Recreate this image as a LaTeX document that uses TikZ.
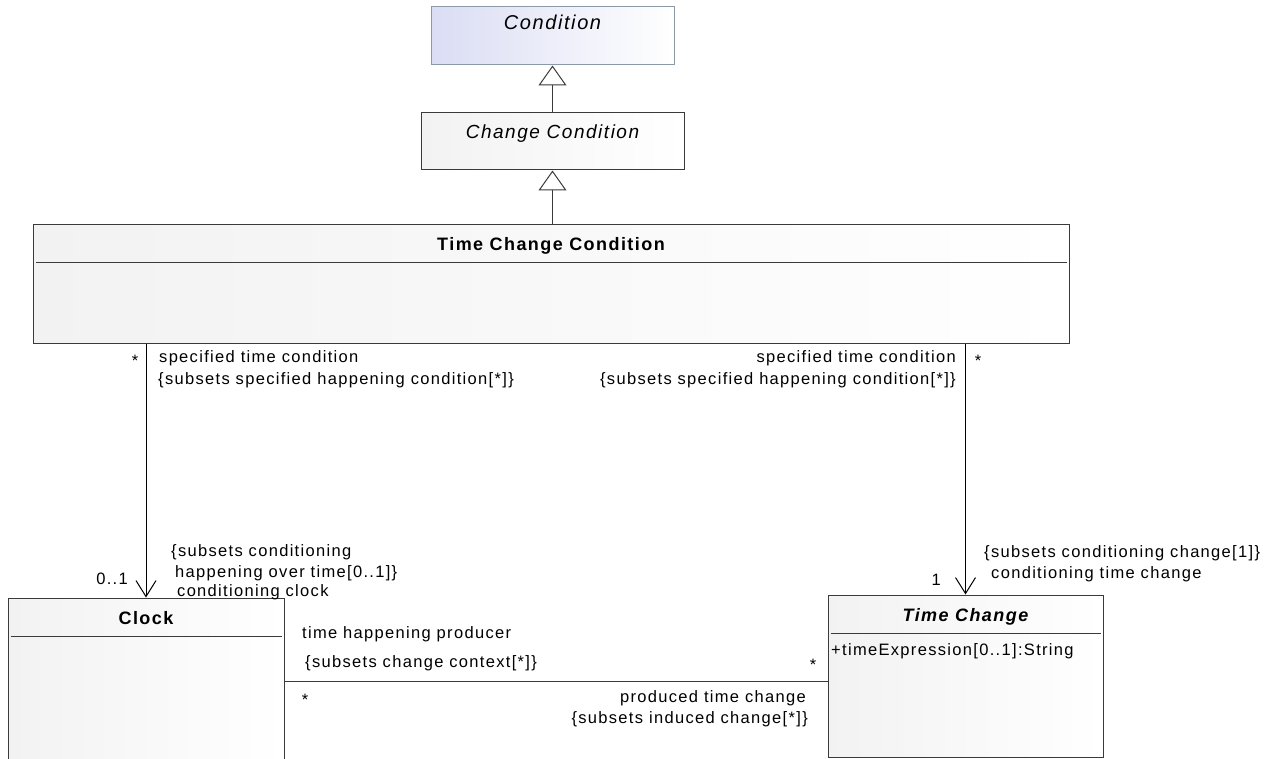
\documentclass[tikz,border=0pt]{standalone}
\usepackage{fontspec}
\setmainfont{Liberation Sans}[LetterSpace=8]
\usetikzlibrary{arrows.meta}
\definecolor{lav}{HTML}{DADDF4}
\definecolor{lavedge}{HTML}{8C9AA8}
\definecolor{edge}{HTML}{3A3A3A}
\definecolor{boxgray}{HTML}{F2F2F2}

\begin{document}
\begin{tikzpicture}[x=1pt,y=-1pt,
  classbox/.style={draw=edge, line width=1pt, inner sep=0pt, left color=boxgray, right color=white},
  condbox/.style={draw=lavedge, line width=1pt, inner sep=0pt, left color=lav, right color=white},
  ttl/.style={inner sep=0pt, anchor=base, font=\fontsize{19}{19}\selectfont\itshape},
  bttl/.style={inner sep=0pt, anchor=base, font=\fontsize{18}{18}\selectfont\bfseries},
  lbl/.style={inner sep=0pt, anchor=base west, font=\fontsize{16.5}{16.5}\selectfont},
  lblr/.style={lbl, anchor=base east},
  mult/.style={lbl, anchor=base},
  divider/.style={draw=edge, line width=1pt},
  gen/.style={draw=edge, line width=1pt, -{Triangle[length=20pt,width=28pt,fill=white]}},
  nav/.style={draw=black, line width=1pt, -{Straight Barb[length=16pt,width=20pt]}},
]
\useasboundingbox (0,0) rectangle (1271,759);

% classes
\node[condbox, minimum width=243pt, minimum height=58pt] (cond) at (552.5,36) {};
\node[ttl, font=\fontsize{20}{20}\selectfont\itshape] (condT) at (552.5,30) {Condition};

\node[classbox, minimum width=263pt, minimum height=57pt] (chg) at (552.5,141.5) {};
\node[ttl] (chgT) at (552.5,139) {Change Condition};

\node[classbox, minimum width=1036pt, minimum height=118pt] (tcc) at (551,284) {};
\node[bttl] (tccT) at (551,251) {Time Change Condition};
\draw[divider] ([xshift=3pt]tcc.west |- 0,263) -- ([xshift=-3pt]tcc.east |- 0,263);

\node[classbox, minimum width=276pt, minimum height=177pt] (clock) at (146,686.5) {};
\node[bttl] (clockT) at (146,624) {Clock};
\draw[divider] ([xshift=3pt]clock.west |- 0,636) -- ([xshift=-3pt]clock.east |- 0,636);

\node[classbox, minimum width=275pt, minimum height=162pt] (tchg) at (965.5,676) {};
\node[bttl, font=\fontsize{18}{18}\selectfont\bfseries\itshape] (tchgT) at (965.5,621) {Time Change};
\draw[divider] ([xshift=3pt]tchg.west |- 0,633) -- ([xshift=-3pt]tchg.east |- 0,633);
\node[lbl] (tchgA) at (831,655) {+timeExpression[0..1]:String};

% generalizations
\draw[gen] (cond.south |- chg.north) -- (cond.south);
\draw[gen] (chg.south |- tcc.north) -- (chg.south);

% associations
\draw[nav] (tcc.south -| clock.north) -- (clock.north);
\draw[nav] (tcc.south -| tchg.north) -- (tchg.north);
\coordinate (assoc) at (0,681);
\draw[draw=edge, line width=1pt] (clock.east |- assoc) -- (tchg.west |- assoc);

% association ends: time change condition -> clock
\node[mult] (m1) at (135,366) {*};
\node[lbl] (r1a) at (159,362) {specified time condition};
\node[lbl] (r1b) at (158,384) {\{subsets specified happening condition[*]\}};
\node[lbl] (r2a) at (171,556) {\{subsets conditioning};
\node[lbl] (r2b) at (175,577) {happening over time[0..1]\}};
\node[lbl] (r2c) at (177,596) {conditioning clock};
\node[lblr] (m2) at (128,584) {0..1};

% association ends: time change condition -> time change
\node[mult] (m3) at (978,366) {*};
\node[lblr] (r3a) at (956,362) {specified time condition};
\node[lblr] (r3b) at (956,384) {\{subsets specified happening condition[*]\}};
\node[lbl] (r4a) at (984,557) {\{subsets conditioning change[1]\}};
\node[lbl] (r4b) at (991,578) {conditioning time change};
\node[lblr] (m4) at (941,585) {1};

% association ends: clock -- time change
\node[lbl] (r5a) at (302,638) {time happening producer};
\node[lbl] (r5b) at (305,667) {\{subsets change context[*]\}};
\node[mult] (m5) at (813,670) {*};
\node[mult] (m6) at (305,705) {*};
\node[lblr] (r6a) at (806,702) {produced time change};
\node[lblr] (r6b) at (808,723) {\{subsets induced change[*]\}};
\end{tikzpicture}
\end{document}
